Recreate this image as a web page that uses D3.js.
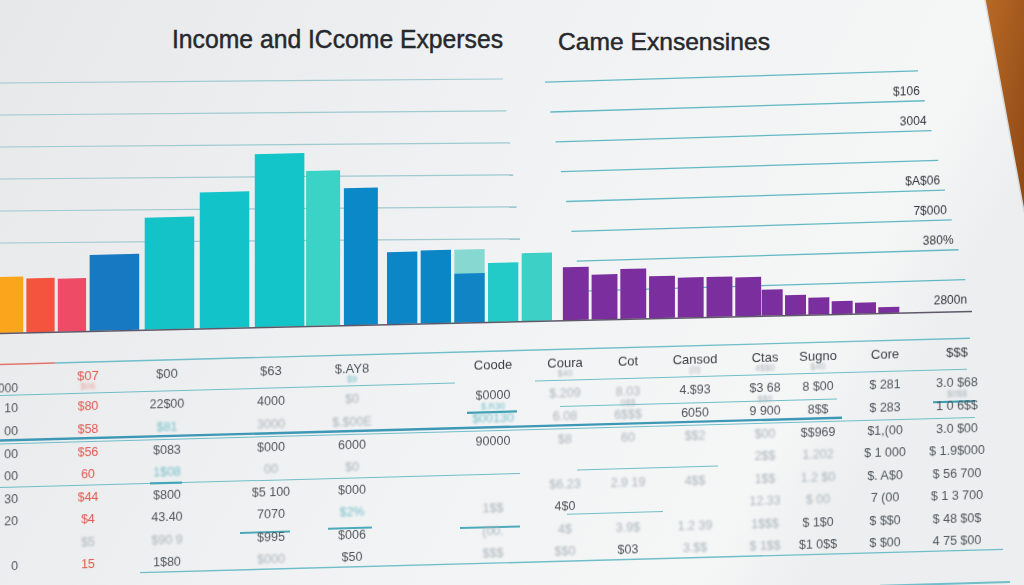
<!DOCTYPE html>
<html>
<head>
<meta charset="utf-8">
<script src="https://cdn.jsdelivr.net/npm/d3@7"></script>
<style>
  html, body { margin: 0; padding: 0; background: #eceeef; overflow: hidden; }
  svg { display: block; }
</style>
</head>
<body>
<div id="chart"></div>
<script>
// ---- data ----
const titles = ["Income and ICcome Experses", "Came Exnsensines"];

const incomeValues  = [560, 540, 530, 760, 1120, 1360, 1730, 1550, 1370, 720, 730, 730, 590, 680];
const incomeSplit   = {index: 11, value: 490};           // the one stacked bar
const expenseValues = [530, 450, 500, 420, 400, 400, 390, 260, 200, 170, 130, 110, 60];

const leftGrid  = [900, 1220, 1540, 1860, 2180, 2500];
const rightGrid = [300, 600, 900, 1200, 1500, 1800, 2100, 2400];
const rightTicks      = [0, 600, 900, 1200, 1800, 2100];
const rightTickLabels = ["2800n", "380%", "7$000", "$A$06", "3004", "$106"];

// table below the chart: one entry per column
const tableCols = [
  {head: "",       sub: "000", rows: ["10", "00", "00", "00", "30", "20", "", "0"]},
  {head: "$07",    sub: "$06", rows: ["$80", "$58", "$56", "60", "$44", "$4", "$5", "15"]},
  {head: "$00",    sub: "",    rows: ["22$00", "$81", "$083", "1$08", "$800", "43.40", "$90 9", "1$80"]},
  {head: "$63",    sub: "",    rows: ["4000", "3000", "$000", "00", "$5 100", "7070", "$995", "$000"]},
  {head: "$.AY8",  sub: "$9",  rows: ["$0", "$.$00E", "6000", "$0", "$000", "$2%", "$006", "$50"]},
  {head: "Coode",  sub: "",    rows: ["$0000", "$00130", "90000", "", "", "1$$", "(00.", "$$$"]},
  {head: "Coura",  sub: "$40", rows: ["$.209", "6.08", "$8", "", "$6.23", "4$0", "4$", "$$0"]},
  {head: "Cot",    sub: "",    rows: ["8.03", "6$$$", "60", "", "2.9 19", "", "3.9$", "$03"]},
  {head: "Cansod", sub: "(0)", rows: ["4.$93", "6050", "$$2", "", "4$$", "", "1.2 39", "3.$$"]},
  {head: "Ctas",   sub: "4$$0",rows: ["$3 68", "9 900", "$00", "2$$", "1$$", "12.33", "1$$$", "$ 1$$"]},
  {head: "Sugno",  sub: "$40", rows: ["8 $00", "8$$", "$$969", "1.202", "1.2 $0", "$ 00", "$ 1$0", "$1 0$$"]},
  {head: "Core",   sub: "",    rows: ["$ 281", "$ 283", "$1,(00", "$ 1 000", "$. A$0", "7 (00", "$ $$0", "$ $00"]},
  {head: "$$$",    sub: "",    rows: ["3.0 $68", "1 0 6$$", "3.0 $00", "$ 1.9$000", "$ 56 700", "$ 1 3 700", "$ 48 $0$", "4 75 $00"]}
];
const rowNotes = [[5, 1, "$.R30"], [12, 1, "$0$$"], [7, 1, "0$$"], [9, 1, "$$0"]];

// ---- styles / layout ----
const incomeColors = ["#fba51d", "#f4533d", "#ee4b67", "#1679c1", "#13c3c8", "#12c4c9", "#13c5c8",
                      "#3bd3c6", "#0b88c7", "#0c86c6", "#0a85c5", "#86d8d1", "#23cbc8", "#3cd0c6"];
const splitColor = "#1184c6";
const expenseColor = "#7b2e9d";
const incomeClusters  = [[0, 3, -6, 87], [3, 7, 88, 306], [7, 9, 305, 379], [9, 14, 386, 553]];
const expenseClusters = [[0, 7, 562, 762], [7, 13, 761, 900]];
const colX    = [18, 88, 167, 271, 352, 493, 565, 628, 695, 765, 818, 885, 957];
const tones   = ["dddddddd", "rrrrrrfr", "dtdtddfd", "dfdfdddf", "ffdfdtdd", "dtdddfff", "fffffdff",
                 "fffffffd", "ddffffff", "ddffffff", "dddfffdd", "dddddddd", "dddddddd"];
const subTone = ["d", "q", "f", "f", "t", "f", "f", "f", "f", "f", "f", "f", "f"];
const toneColor = {d: "#50565c", f: "#aab4bb", t: "#74c0ca", r: "#e0584f", q: "#eba39e"};
const teal = "#62b9c5";
// table rules in row units (x extents are page pixels)
const tableRules = [
  [-0.95, 0, 55, 1.6, "#e2675d"], [-0.95, 55, 970, 1.4, teal],
  [0.42, 0, 455, 1, teal], [0.42, 535, 967, 1, teal], [1.58, 560, 837, 1, teal],
  [1.75, 467, 517, 2.2, "#2b97ad"], [1.84, 933, 975, 2.2, "#2b97ad"],
  [2.42, 0, 842, 2.4, "#2a8fb0"], [2.57, 0, 975, 1, teal],
  [4.5, 0, 520, 1, teal], [4.5, 150, 182, 2.2, "#3aa3b5"], [4.41, 577, 718, 1, teal],
  [6.36, 567, 663, 1, teal], [6.8, 240, 290, 2, "#3aa3b5"], [6.72, 328, 372, 2, "#3aa3b5"],
  [6.85, 460, 520, 2, "#3aa3b5"], [8.44, 140, 1003, 1.4, teal], [9.9, 880, 1010, 2, teal]
];

const W = 1024, H = 585;
const deg = t => Math.atan(t) * 180 / Math.PI;

const svg = d3.select("#chart").append("svg").attr("width", W).attr("height", H);
const defs = svg.append("defs");

const bg = defs.append("linearGradient").attr("id", "paper").attr("x1", 0).attr("x2", 1).attr("y1", 0).attr("y2", 0.3);
bg.append("stop").attr("offset", "0%").attr("stop-color", "#e6e8e9");
bg.append("stop").attr("offset", "55%").attr("stop-color", "#f1f2f3");
bg.append("stop").attr("offset", "90%").attr("stop-color", "#f5f6f6");
bg.append("stop").attr("offset", "100%").attr("stop-color", "#eceeef");
const wood = defs.append("linearGradient").attr("id", "wood").attr("x1", 0).attr("x2", 1).attr("y1", 0).attr("y2", 1);
wood.append("stop").attr("offset", "0%").attr("stop-color", "#b86a26");
wood.append("stop").attr("offset", "100%").attr("stop-color", "#8e4815");
defs.append("filter").attr("id", "soft").append("feGaussianBlur").attr("stdDeviation", 0.35);
defs.append("filter").attr("id", "blur").append("feGaussianBlur").attr("stdDeviation", 0.9);

svg.append("rect").attr("width", W).attr("height", H).attr("fill", "url(#paper)");
svg.append("polygon").attr("points", "985,0 1024,0 1024,212").attr("fill", "url(#wood)");
svg.append("line").attr("x1", 985).attr("y1", 0).attr("x2", 1024).attr("y2", 212)
   .attr("stroke", "#d9dbdc").attr("stroke-width", 1.5);

// titles
const titleFont = "'Liberation Sans Narrow', 'Liberation Sans', Arial, sans-serif";
svg.append("text").attr("x", 172).attr("y", 48).attr("textLength", 331).attr("lengthAdjust", "spacingAndGlyphs")
   .attr("font-family", titleFont).attr("font-size", 25)
   .attr("fill", "#25282c").attr("stroke", "#25282c").attr("stroke-width", 0.45).text(titles[0]);
svg.append("text").attr("x", 558).attr("y", 50).attr("textLength", 212).attr("lengthAdjust", "spacingAndGlyphs")
   .attr("font-family", titleFont).attr("font-size", 24)
   .attr("fill", "#25282c").attr("stroke", "#25282c").attr("stroke-width", 0.45).text(titles[1]);

const h = d3.scaleLinear().domain([0, 2500]).range([0, 250]);

// left grid
const leftEnd = d3.scaleLinear().domain([900, 2500]).range([520, 503]);
const gl = svg.append("g").attr("transform", `translate(0,333) skewY(${deg(-0.008)})`);
gl.selectAll("line").data(leftGrid).join("line")
  .attr("x1", 0).attr("x2", d => leftEnd(d)).attr("y1", d => -h(d)).attr("y2", d => -h(d))
  .attr("stroke", "#9fcad0").attr("stroke-width", 1.2);

// right grid + labels
const rLeft  = d3.scaleLinear().domain([300, 2400]).range([582, 545]);
const rRight = d3.scaleLinear().domain([0, 2400]).range([972, 918]);
const gr = svg.append("g").attr("transform", `translate(750,316) skewY(${deg(-0.03)})`);
gr.selectAll("line").data(rightGrid).join("line")
  .attr("x1", d => rLeft(d) - 750).attr("x2", d => rRight(d) - 750)
  .attr("y1", d => -h(d)).attr("y2", d => -h(d))
  .attr("stroke", teal).attr("stroke-width", 1.3);
gr.selectAll("text").data(rightTicks).join("text")
  .attr("x", d => rRight(d) - 755).attr("y", d => -h(d) - 6)
  .attr("text-anchor", "end").attr("font-family", "'Liberation Sans', Arial, sans-serif")
  .attr("font-size", 12).attr("fill", "#33373c").attr("filter", "url(#soft)")
  .text((d, i) => rightTickLabels[i]);

// bars
function clusterScale(clusters) {
  const scales = clusters.map(([a, b, r0, r1]) =>
    d3.scaleBand().domain(d3.range(a, b)).range([r0, r1]).paddingInner(0.1).paddingOuter(0.03));
  const pick = i => scales.find(s => s(i) !== undefined);
  return {x: i => pick(i)(i), w: i => pick(i).bandwidth()};
}
const xi = clusterScale(incomeClusters);
const xe = clusterScale(expenseClusters);

const gb = svg.append("g").attr("transform", `translate(0,333) skewY(${deg(-0.0226)})`);
gb.selectAll("rect.inc").data(incomeValues).join("rect").attr("class", "inc")
  .attr("x", (d, i) => xi.x(i)).attr("width", (d, i) => xi.w(i))
  .attr("y", d => -h(d)).attr("height", d => h(d))
  .attr("fill", (d, i) => incomeColors[i]);
gb.append("rect")
  .attr("x", xi.x(incomeSplit.index)).attr("width", xi.w(incomeSplit.index))
  .attr("y", -h(incomeSplit.value)).attr("height", h(incomeSplit.value)).attr("fill", splitColor);
gb.selectAll("rect.exp").data(expenseValues).join("rect").attr("class", "exp")
  .attr("x", (d, i) => xe.x(i)).attr("width", (d, i) => xe.w(i))
  .attr("y", d => -h(d)).attr("height", d => h(d)).attr("fill", expenseColor);
gb.append("line").attr("x1", 0).attr("x2", rRight(0)).attr("y1", 0.5).attr("y2", 0.5)
  .attr("stroke", "#5e5869").attr("stroke-width", 1.6);

// table
const rowY = d3.scaleLinear().domain([1, 8]).range([395, 553]);
const headRow = -0.37, subOff = 0.49;
const gt = svg.append("g").attr("transform", `translate(500,0) skewY(${deg(-0.027)})`);

gt.selectAll("line").data(tableRules).join("line")
  .attr("x1", d => d[1] - 500).attr("x2", d => d[2] - 500)
  .attr("y1", d => rowY(d[0])).attr("y2", d => rowY(d[0]))
  .attr("stroke", d => d[4]).attr("stroke-width", d => d[3]).attr("opacity", 0.9);

const cells = [];
tableCols.forEach((c, ci) => {
  if (c.head) cells.push({ci, r: headRow, t: c.head, tone: ci === 1 ? "r" : "d", size: 13, head: true});
  if (c.sub) cells.push({ci, r: headRow + subOff, t: c.sub, tone: subTone[ci], size: ci === 0 ? 12 : 9});
  c.rows.forEach((t, ri) => { if (t) cells.push({ci, r: ri + 1, t, tone: tones[ci][ri], size: 12.5}); });
});
rowNotes.forEach(([ci, r, t]) => cells.push({ci, r: r + subOff, t, tone: ci === 5 ? "t" : "f", size: 9}));

gt.selectAll("text").data(cells).join("text")
  .attr("x", d => colX[d.ci] - 500)
  .attr("y", d => rowY(d.r) + d.size * 0.36)
  .attr("text-anchor", d => d.ci === 0 ? "end" : "middle")
  .attr("font-family", "'Liberation Sans', Arial, sans-serif")
  .attr("font-size", d => d.size)
  .attr("fill", d => d.head && d.ci > 4 ? "#3b4045" : toneColor[d.tone])
  .attr("filter", d => d.tone === "d" || d.tone === "r" ? "url(#soft)" : "url(#blur)")
  .text(d => d.t);
</script>
</body>
</html>
